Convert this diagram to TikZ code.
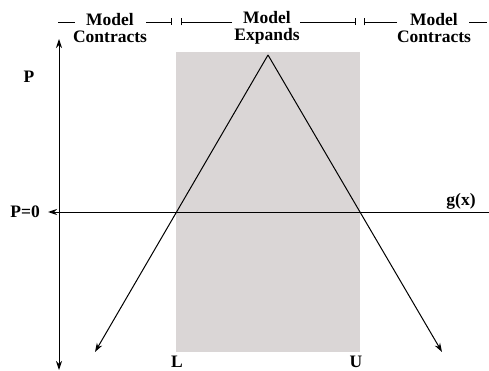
\documentclass[tikz,border=0pt]{standalone}
\usepackage{fontspec}
\setmainfont{Liberation Serif}
\usetikzlibrary{arrows.meta}
\definecolor{greyfill}{HTML}{DAD6D6}
\begin{document}
\begin{tikzpicture}[x=1pt,y=-1pt,
  lab/.style={font=\fontsize{17.5}{17}\selectfont\bfseries, inner sep=0pt},
  toplab/.style={lab, align=center},
  arr/.style={-{Stealth[length=9pt,width=6pt]}, line width=1pt},
  bar/.style={line width=0.6pt},
  barend/.style={line width=0.6pt, -{Bar[width=7pt]}}]
\useasboundingbox (0,0) rectangle (489,371);
\fill[greyfill] (176,52) rectangle (360,352);
% axes
\coordinate (ybot) at (59,370);
\coordinate (ytop) at (59,39);
\draw[arr] (59,212) -- (ytop);
\draw[arr] (59,212) -- (ybot);
\coordinate (xr) at (489,212);
\coordinate (xl) at (48,212);
\draw[arr] (xr) -- (xl);
% triangle
\coordinate (apex) at (268,55);
\coordinate (la) at (95,352);
\coordinate (ra) at (442,352);
\draw[arr] (apex) -- (la);
\draw[arr] (apex) -- (ra);
% labels
\node[lab] (P) at (29,77) {P};
\node[lab, anchor=east] (P0) at (40,212) {P=0};
\node[lab] (gx) at (461,201) {g(x)};
\node[lab] (L) at (177,362) {L};
\node[lab] (U) at (356,362) {U};
\node[toplab] (c1) at (110,28) {Model\\Contracts};
\node[toplab] (ex) at (267,28) {Model\\Expands};
\node[toplab] (c2) at (434,28) {Model\\Contracts};
% range bars
\draw[bar] (58,22) -- (75,22);
\draw[barend] (146,22) -- (172,22);
\draw[barend] (232,22) -- (181,22);
\draw[barend] (300,22) -- (356,22);
\draw[barend] (397,22) -- (364,22);
\draw[bar] (469,22) -- (487,22);
\end{tikzpicture}
\end{document}
